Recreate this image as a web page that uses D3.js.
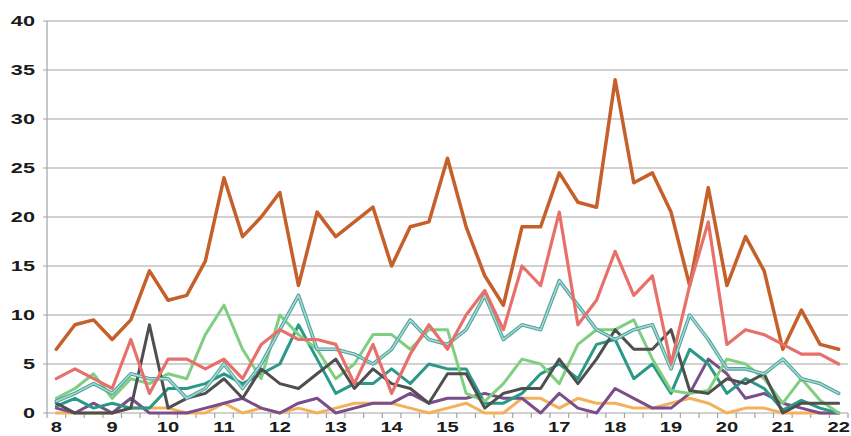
<!DOCTYPE html>
<html>
<head>
<meta charset="utf-8">
<script src="https://cdn.jsdelivr.net/npm/d3@7/dist/d3.min.js"></script>
<style>
  body { margin: 0; background: #fff; }
  text { font-family: "Liberation Sans", Arial, sans-serif; font-weight: bold; fill: #1b1b1b; }
</style>
</head>
<body>
<svg id="chart" width="851" height="436"></svg>
<script>
// Time slots, every 20 minutes from 8:00 to 22:00
const times = ["8:00","8:20","8:40","9:00","9:20","9:40","10:00","10:20","10:40",
  "11:00","11:20","11:40","12:00","12:20","12:40","13:00","13:20","13:40",
  "14:00","14:20","14:40","15:00","15:20","15:40","16:00","16:20","16:40",
  "17:00","17:20","17:40","18:00","18:20","18:40","19:00","19:20","19:40",
  "20:00","20:20","20:40","21:00","21:20","21:40","22:00"];
const hourLabels = ["8","9","10","11","12","13","14","15","16","17","18","19","20","21","22"];
const yTicks = [0, 5, 10, 15, 20, 25, 30, 35, 40];

const seriesOrange = [6.5,9,9.5,7.5,9.5,14.5,11.5,12,15.5,24,18,20,22.5,13,20.5,18,19.5,21,15,19,19.5,26,19,14,11,19,19,24.5,21.5,21,34,23.5,24.5,20.5,13,23,13,18,14.5,6.5,10.5,7,6.5];
const seriesSalmon = [3.5,4.5,3.5,2.5,7.5,2,5.5,5.5,4.5,5.5,3.5,7,8.5,7.5,7.5,7,3,7,2,6,9,6.5,10,12.5,8.5,15,13,20.5,9,11.5,16.5,12,14,5,13,19.5,7,8.5,8,7,6,6,5];
const seriesTealLight = [1.2,2,3,2,4,3.5,3.5,1.5,2.5,5,2.5,5,8.5,12,6.5,6.5,6,5,6.5,9.5,7.5,7,8.5,12,7.5,9,8.5,13.5,11,8.5,7.5,8.5,9,4.5,10,7.5,4.5,4.5,4,5.5,3.5,3,2];
const seriesGreen = [1.5,2.5,4,1.5,3.5,3,4,3.5,8,11,6.5,3.5,10,8,6.5,3.5,5,8,8,6.5,8.5,8.5,2,1.2,3,5.5,5,3,7,8.5,8.5,9.5,5.5,2.3,2,2.3,5.5,5,3.5,1,3.5,1.3,0];
const seriesTealDark = [0.7,1.5,0.5,1,0.5,0.5,2.5,2.5,3,4,3,4,5,9,5.5,2,3,3,4.5,3,5,4.5,4.5,1,1,2,4,5,3.5,7,7.5,3.5,5,2,6.5,5,2,3.5,2.5,0.3,1.3,0.5,0];
const seriesGray = [1,0,0,0,0.5,9,0.5,1.5,2,3.5,1.5,4.5,3,2.5,4,5.5,2.5,4.5,3,2.5,1,4,4,0.5,2,2.5,2.5,5.5,3,5.5,8.5,6.5,6.5,8.5,2.3,2,3.5,3,4,0,1,1,1];
const seriesPurple = [0.5,0,1,0,1.5,0,0,0,0.5,1,1.5,0.5,0,1,1.5,0,0.5,1,1,2,1,1.5,1.5,2,1.5,1.5,0,2,0.5,0,2.5,1.5,0.5,0.5,2,5.5,4,1.5,2,1,0.5,0,0];
const seriesYellow = [0,0,0,0,0.5,0.5,0.5,0,0,1,0,0.5,0,0.5,0,0.5,1,1,1,0.5,0,0.5,1,0,0,1.5,1.5,0.5,1.5,1,1,0.5,0.5,1,1.5,1,0,0.5,0.5,0,0,0,0];

const svg = d3.select("#chart");
const plotLeft = 47, plotRight = 848, plotTop = 21, plotBottom = 413;

const x = d3.scaleBand().domain(times).range([plotLeft, plotRight]).padding(0);
const cx = t => x(t) + x.bandwidth() / 2;
const y = d3.scaleLinear().domain([0, 40]).range([plotBottom, plotTop]);

// horizontal gridlines
svg.append("g").selectAll("line").data(yTicks.filter(v => v > 0)).join("line")
  .attr("x1", plotLeft - 4).attr("x2", plotRight)
  .attr("y1", d => y(d)).attr("y2", d => y(d))
  .attr("stroke", "#a3a3a3").attr("stroke-width", 1.2);

// y axis line
svg.append("line").attr("x1", plotLeft).attr("x2", plotLeft).attr("y1", plotTop).attr("y2", plotBottom)
  .attr("stroke", "#a3a3a3").attr("stroke-width", 1.2);

// x axis line with tick marks between categories
svg.append("line").attr("x1", plotLeft - 4).attr("x2", plotRight).attr("y1", plotBottom).attr("y2", plotBottom)
  .attr("stroke", "#a3a3a3").attr("stroke-width", 1.2);
const tickPos = times.map(t => x(t)).concat([plotRight]);
svg.append("g").selectAll("line").data(tickPos).join("line")
  .attr("x1", d => d).attr("x2", d => d)
  .attr("y1", plotBottom).attr("y2", plotBottom + 5)
  .attr("stroke", "#a3a3a3").attr("stroke-width", 1.2);

// y labels
svg.append("g").selectAll("text").data(yTicks).join("text")
  .attr("transform", d => `translate(35,${y(d)}) scale(1.55,1)`)
  .attr("text-anchor", "end").attr("dy", "0.36em")
  .style("font-size", "14px")
  .text(d => d);

// x labels at each full hour
svg.append("g").selectAll("text").data(hourLabels).join("text")
  .attr("transform", (d, i) => `translate(${cx(times[i * 3])},432) scale(1.3,1)`)
  .attr("text-anchor", "middle")
  .style("font-size", "15.5px")
  .text(d => d);

const line = d3.line().x((d, i) => cx(times[i])).y(d => y(d)).curve(d3.curveLinear);

const series = [
  { values: seriesYellow, color: "#f2b15a", width: 3 },
  { values: seriesPurple, color: "#7b4d8b", width: 3 },
  { values: seriesTealDark, color: "#2a9a88", width: 3 },
  { values: seriesGreen, color: "#80cf80", width: 3 },
  { values: seriesGray, color: "#4f4f4f", width: 3 },
  { values: seriesTealLight, color: "#52a39d", width: 3.6, inner: "#a9dcd7" },
  { values: seriesOrange, color: "#c6602a", width: 3.5 },
  { values: seriesSalmon, color: "#e8706b", width: 3.2 }
];

const g = svg.append("g");
series.forEach(s => {
  g.append("path").datum(s.values)
    .attr("d", line).attr("fill", "none")
    .attr("stroke", s.color).attr("stroke-width", s.width)
    .attr("stroke-linejoin", "round").attr("stroke-linecap", "round");
  if (s.inner) {
    g.append("path").datum(s.values)
      .attr("d", line).attr("fill", "none")
      .attr("stroke", s.inner).attr("stroke-width", 1.4)
      .attr("stroke-linejoin", "round").attr("stroke-linecap", "round");
  }
});
</script>
</body>
</html>
